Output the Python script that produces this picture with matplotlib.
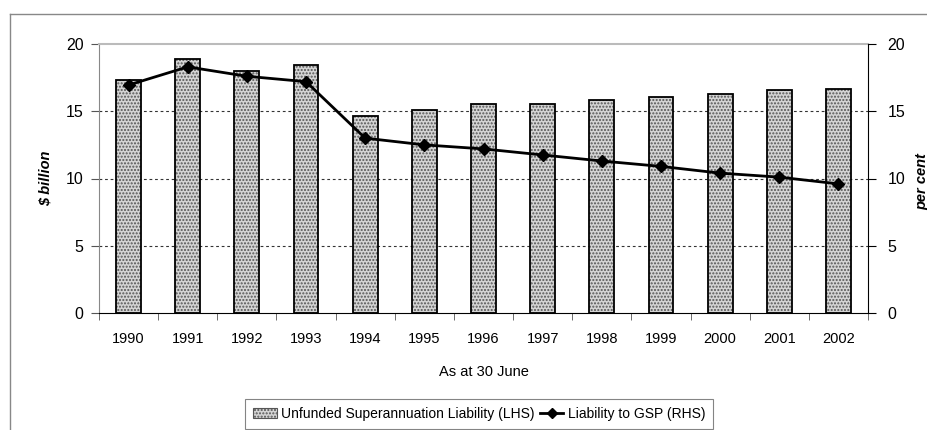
import matplotlib
matplotlib.use("Agg")
import matplotlib.pyplot as plt
from matplotlib.lines import Line2D
from matplotlib.patches import Patch
import numpy as np

plt.rcParams['font.family'] = ['Liberation Sans', 'DejaVu Sans']

years = ['1990', '1991', '1992', '1993', '1994', '1995', '1996', '1997',
         '1998', '1999', '2000', '2001', '2002']
liability = [17.3, 18.9, 18.0, 18.45, 14.65, 15.1, 15.55, 15.55, 15.8, 16.05, 16.3, 16.55, 16.65]
gsp_ratio = [16.95, 18.3, 17.6, 17.2, 13.0, 12.5, 12.2, 11.75, 11.3, 10.9, 10.4, 10.1, 9.6]
yticks = [0, 5, 10, 15, 20]

W, H = 928, 430
fig = plt.figure(figsize=(W / 100, H / 100), dpi=100)
ax = fig.add_axes([99 / W, 1 - 313 / H, (868 - 99) / W, (313 - 44) / H])
ax2 = ax.twinx()

x = np.arange(len(years))
bw = 0.42
ax.bar(x, liability, width=bw, facecolor='#d4d4d4', edgecolor='#555555',
       hatch='.....', linewidth=0, zorder=2)
ax.bar(x, liability, width=bw, facecolor='none', edgecolor='black',
       linewidth=1.3, zorder=3)

ax2.plot(x, gsp_ratio, color='black', lw=2, marker='D', markersize=6, zorder=4)

for a in (ax, ax2):
    a.set_xlim(-0.5, len(years) - 0.5)
    a.set_ylim(0, 20)
    a.set_yticks(yticks)

ax.set_yticklabels([str(v) for v in yticks], fontsize=11.5)
ax2.set_yticklabels([str(v) for v in yticks], fontsize=11.5)

for v in yticks[1:-1]:
    ax.axhline(v, color='#333333', lw=0.8, ls=(0, (2.5, 2.5)), zorder=1)

ax.set_xticks(x)
ax.set_xticklabels(years, fontsize=10.5)
ax.tick_params(axis='x', length=0, pad=14)
ax.set_xticks(np.arange(len(years) + 1) - 0.5, minor=True)
ax.tick_params(axis='x', which='minor', length=5, color='#555555', direction='out')
ax.tick_params(axis='y', length=6, color='#555555', direction='out', pad=5)
ax2.tick_params(axis='y', length=6, color='black', direction='out', pad=8)

ax.spines['left'].set_color('#888888')
ax.spines['top'].set_color('#bbbbbb')
ax.spines['top'].set_linewidth(1.5)
ax.spines['bottom'].set_color('black')
ax.spines['right'].set_visible(False)
ax2.spines['left'].set_visible(False)
ax2.spines['top'].set_visible(False)
ax2.spines['bottom'].set_visible(False)
ax2.spines['right'].set_color('black')

ax.set_xlabel('As at 30 June', fontsize=10.5, labelpad=13)
ax.set_ylabel('$ billion', fontsize=10.5, fontweight='bold', style='italic', labelpad=10)
fig.text(922 / W, 1 - 182 / H, 'per cent', fontsize=10.5, fontweight='bold',
         style='italic', rotation=90, ha='center', va='center')

ax2.set_zorder(ax.get_zorder() + 1)
ax2.patch.set_visible(False)

handles = [Patch(facecolor='#d4d4d4', edgecolor='#555555', hatch='.....', lw=0.8),
           Line2D([0], [0], color='black', lw=2, marker='D', markersize=5)]
leg = fig.legend(handles, ['Unfunded Superannuation Liability (LHS)', 'Liability to GSP (RHS)'],
                 loc='center', bbox_to_anchor=(479 / W, 1 - 414 / H), ncol=2,
                 fontsize=10, frameon=True, fancybox=False, edgecolor='#666666',
                 handlelength=1.7, handletextpad=0.3, columnspacing=0.4,
                 borderpad=0.6, borderaxespad=0)
leg.get_frame().set_linewidth(0.8)

# outer chart frame
fig.add_artist(Line2D([10 / W, 10 / W], [0, 1 - 14 / H], transform=fig.transFigure,
                      color='#888888', lw=1))
fig.add_artist(Line2D([10 / W, 1], [1 - 14 / H, 1 - 14 / H], transform=fig.transFigure,
                      color='#888888', lw=1))

fig.savefig('out.png', dpi=100)
